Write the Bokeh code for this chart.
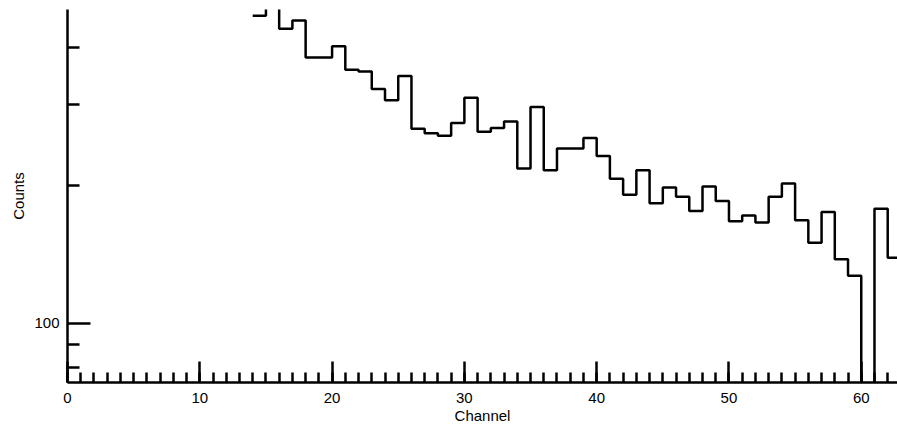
import numpy as np
from bokeh.plotting import figure
from bokeh.models import FixedTicker, BasicTickFormatter, Range1d
from bokeh.embed import file_html
from bokeh.resources import INLINE

# Channels (bin left edges) and counts
channels = list(range(14, 63))
counts = [470, 520, 440, 459, 381, 381, 403, 358, 355, 325, 307, 347,
          266, 260, 257, 274, 311, 262, 267, 276, 218, 297, 216, 241,
          241, 254, 232, 207, 191, 216, 183, 198, 189, 176, 199, 185,
          167, 172, 166, 189, 202, 168, 150, 175, 138, 127, 0, 178, 139]

x_major = [0, 10, 20, 30, 40, 50, 60]
x_minor = list(range(0, 63))
y_major = [100]
y_minor = [80, 90, 200, 300, 400]

FONT = "Liberation Sans"

p = figure(output_backend="svg", toolbar_location=None,
           y_axis_type="log",
           frame_width=830, frame_height=373,
           x_range=Range1d(0, 62.74), y_range=Range1d(74.2, 485),
           min_border_left=67, min_border_right=0, min_border_top=9,
           min_border_bottom=40)
p.outline_line_color = None
p.xgrid.visible = False
p.ygrid.visible = False
p.background_fill_color = "white"
p.border_fill_color = "white"

# step histogram; empty bins sent below the visible range
c = np.array(counts, dtype=float)
c_draw = np.where(c > 0, c, 1.0)
edges = channels + [channels[-1] + 1]
yvals = list(c_draw) + [c_draw[-1]]
p.step(x=edges, y=yvals, mode="after", line_color="black", line_width=2.5)

for ax in (p.xaxis, p.yaxis):
    ax.axis_line_color = "black"
    ax.axis_line_width = 2.5
    ax.major_tick_line_color = "black"
    ax.major_tick_line_width = 2.5
    ax.minor_tick_line_color = "black"
    ax.minor_tick_line_width = 2.5
    ax.major_tick_out = 0
    ax.minor_tick_out = 0
    ax.major_label_text_font = FONT
    ax.major_label_text_font_size = "15px"
    ax.major_label_text_color = "black"
    ax.axis_label_text_font = FONT
    ax.axis_label_text_font_size = "15px"
    ax.axis_label_text_font_style = "normal"
    ax.axis_label_text_color = "black"

p.xaxis.ticker = FixedTicker(ticks=x_major, minor_ticks=x_minor)
p.xaxis.major_tick_in = 21
p.xaxis.minor_tick_in = 10
p.xaxis.major_label_standoff = 10
p.xaxis.axis_label = "Channel"
p.xaxis.axis_label_standoff = 1

p.yaxis.ticker = FixedTicker(ticks=y_major, minor_ticks=y_minor)
p.yaxis.formatter = BasicTickFormatter()
p.yaxis.major_tick_in = 23
p.yaxis.minor_tick_in = 12
p.yaxis.major_label_standoff = 8
p.yaxis.axis_label = "Counts"
p.yaxis.axis_label_standoff = 4

open("out.html", "w").write(file_html(p, INLINE))
